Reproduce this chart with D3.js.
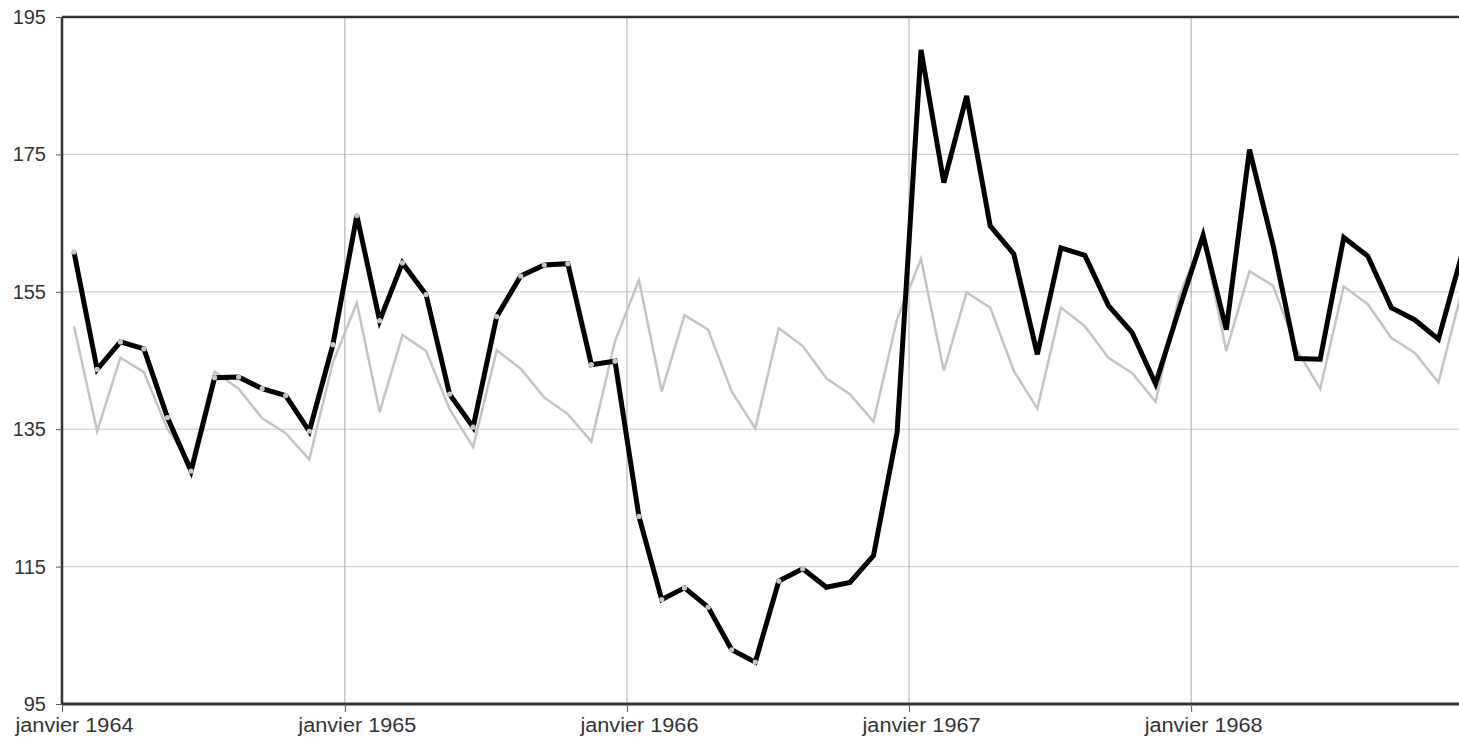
<!DOCTYPE html>
<html>
<head>
<meta charset="utf-8">
<script src="https://cdn.jsdelivr.net/npm/d3@7"></script>
<style>
  body { margin: 0; background: #fff; overflow: hidden; }
  text { font-family: "Liberation Sans", Arial, sans-serif; fill: #333; }
</style>
</head>
<body>
<div id="chart"></div>
<script>
// DATA
const startYear = 1964;
const years = [1964, 1965, 1966, 1967, 1968];
const tickLabels = ['janvier 1964', 'janvier 1965', 'janvier 1966', 'janvier 1967', 'janvier 1968'];
const yTicks = [95, 115, 135, 155, 175, 195];

// bold series (monthly, jan 1964 -> dec 1968)
const seriesMain = [
  160.8, 143.7, 147.7, 146.7, 136.7, 128.9, 142.5, 142.6, 140.9, 139.9, 134.7, 147.3,
  166.1, 150.8, 159.2, 154.6, 140.1, 135.3, 151.4, 157.3, 158.9, 159.1, 144.4, 144.9,
  122.3, 110.2, 111.9, 109.1, 102.9, 101.1, 112.9, 114.7, 112.0, 112.7, 116.6, 134.5,
  190.2, 170.9, 183.5, 164.6, 160.5, 145.9, 161.4, 160.3, 153.0, 149.1, 141.6, 152.5,
  163.2, 149.5, 175.7, 161.8, 145.3, 145.2, 162.9, 160.2, 152.7, 150.9, 148.1, 160.5
];
// light series
const seriesRef = [
  150.0, 134.7, 145.4, 143.3, 135.0, 129.9, 143.4, 140.9, 136.6, 134.4, 130.6, 144.7,
  153.4, 137.5, 148.7, 146.4, 137.9, 132.4, 146.5, 143.8, 139.6, 137.2, 133.2, 147.8,
  156.7, 140.5, 151.6, 149.5, 140.5, 135.1, 149.7, 147.1, 142.4, 140.1, 136.1, 151.0,
  159.8, 143.5, 154.9, 152.7, 143.5, 138.0, 152.7, 150.0, 145.4, 143.2, 139.0, 154.4,
  162.9, 146.4, 158.0, 155.9, 146.6, 140.9, 155.8, 153.2, 148.3, 146.1, 141.8, 155.3
];
// months carrying dot markers on the bold line
const markedMonths = 32;

// CONST
const width = 1459, height = 743;
const margin = { top: 17, right: -15, bottom: 39, left: 62 };

const monthStart = i => new Date(startYear, i, 1);
const monthMid = i => new Date((monthStart(i).getTime() + monthStart(i + 1).getTime()) / 2);

const mainData = seriesMain.map((v, i) => ({ date: monthMid(i), value: v, i }));
const refData = seriesRef.map((v, i) => ({ date: monthMid(i), value: v, i }));

const xScale = d3.scaleTime()
  .domain([new Date(startYear, 0, 1), new Date(startYear + years.length, 0, 1)])
  .range([margin.left, width - margin.right]);

const yScale = d3.scaleLinear()
  .domain([95, 195])
  .range([height - margin.bottom, margin.top]);

const svg = d3.select('#chart')
  .append('svg')
  .attr('width', width)
  .attr('height', height);

// gridlines
svg.append('g')
  .selectAll('line')
  .data(yTicks.slice(1, -1))
  .join('line')
  .attr('x1', margin.left)
  .attr('x2', width)
  .attr('y1', d => yScale(d))
  .attr('y2', d => yScale(d))
  .attr('stroke', '#c8c8c8')
  .attr('stroke-width', 1);

const yearDates = years.map(y => new Date(y, 0, 1));
svg.append('g')
  .selectAll('line')
  .data(yearDates.slice(1))
  .join('line')
  .attr('x1', d => xScale(d))
  .attr('x2', d => xScale(d))
  .attr('y1', yScale(195))
  .attr('y2', yScale(95))
  .attr('stroke', '#a8a8a8')
  .attr('stroke-width', 1);

// lines
const line = d3.line()
  .x(d => xScale(d.date))
  .y(d => yScale(d.value));

svg.append('path')
  .datum(refData)
  .attr('fill', 'none')
  .attr('stroke', '#c4c4c4')
  .attr('stroke-width', 2.5)
  .attr('d', line);

svg.append('path')
  .datum(mainData)
  .attr('fill', 'none')
  .attr('stroke', '#000')
  .attr('stroke-width', 5)
  .attr('d', line);

svg.append('g')
  .selectAll('circle')
  .data(mainData.filter(d => d.i < markedMonths))
  .join('circle')
  .attr('cx', d => xScale(d.date))
  .attr('cy', d => yScale(d.value))
  .attr('r', 2.6)
  .attr('fill', '#c8c8c8');

// frame: top, left, bottom
const frame = svg.append('g').attr('stroke', '#333').attr('stroke-width', 2.5);
frame.append('line')
  .attr('x1', margin.left).attr('x2', width)
  .attr('y1', yScale(195)).attr('y2', yScale(195));
frame.append('line')
  .attr('x1', margin.left).attr('x2', margin.left)
  .attr('y1', yScale(195)).attr('y2', yScale(95));
frame.append('line')
  .attr('x1', margin.left).attr('x2', width)
  .attr('y1', yScale(95)).attr('y2', yScale(95))
  .attr('stroke-width', 3);

// AXES
const yAxis = d3.axisLeft(yScale).tickValues(yTicks).tickSize(6).tickPadding(10);
svg.append('g')
  .attr('class', 'axis y-axis')
  .attr('transform', `translate(${margin.left},0)`)
  .call(yAxis)
  .call(g => g.select('.domain').remove())
  .call(g => g.selectAll('.tick line').attr('stroke', '#555'))
  .call(g => g.selectAll('.tick text').attr('font-size', 20).attr('fill', '#333'));

const xAxis = d3.axisBottom(xScale)
  .tickValues(yearDates)
  .tickFormat((d, i) => tickLabels[i])
  .tickSize(8)
  .tickPadding(6);
svg.append('g')
  .attr('class', 'axis x-axis')
  .attr('transform', `translate(0,${yScale(95)})`)
  .call(xAxis)
  .call(g => g.select('.domain').remove())
  .call(g => g.selectAll('.tick line').attr('stroke', '#555'))
  .call(g => g.selectAll('.tick text')
    .attr('font-size', 20)
    .attr('fill', '#333')
    .attr('dx', 12)
    .attr('textLength', 118)
    .attr('lengthAdjust', 'spacingAndGlyphs'));
</script>
</body>
</html>
